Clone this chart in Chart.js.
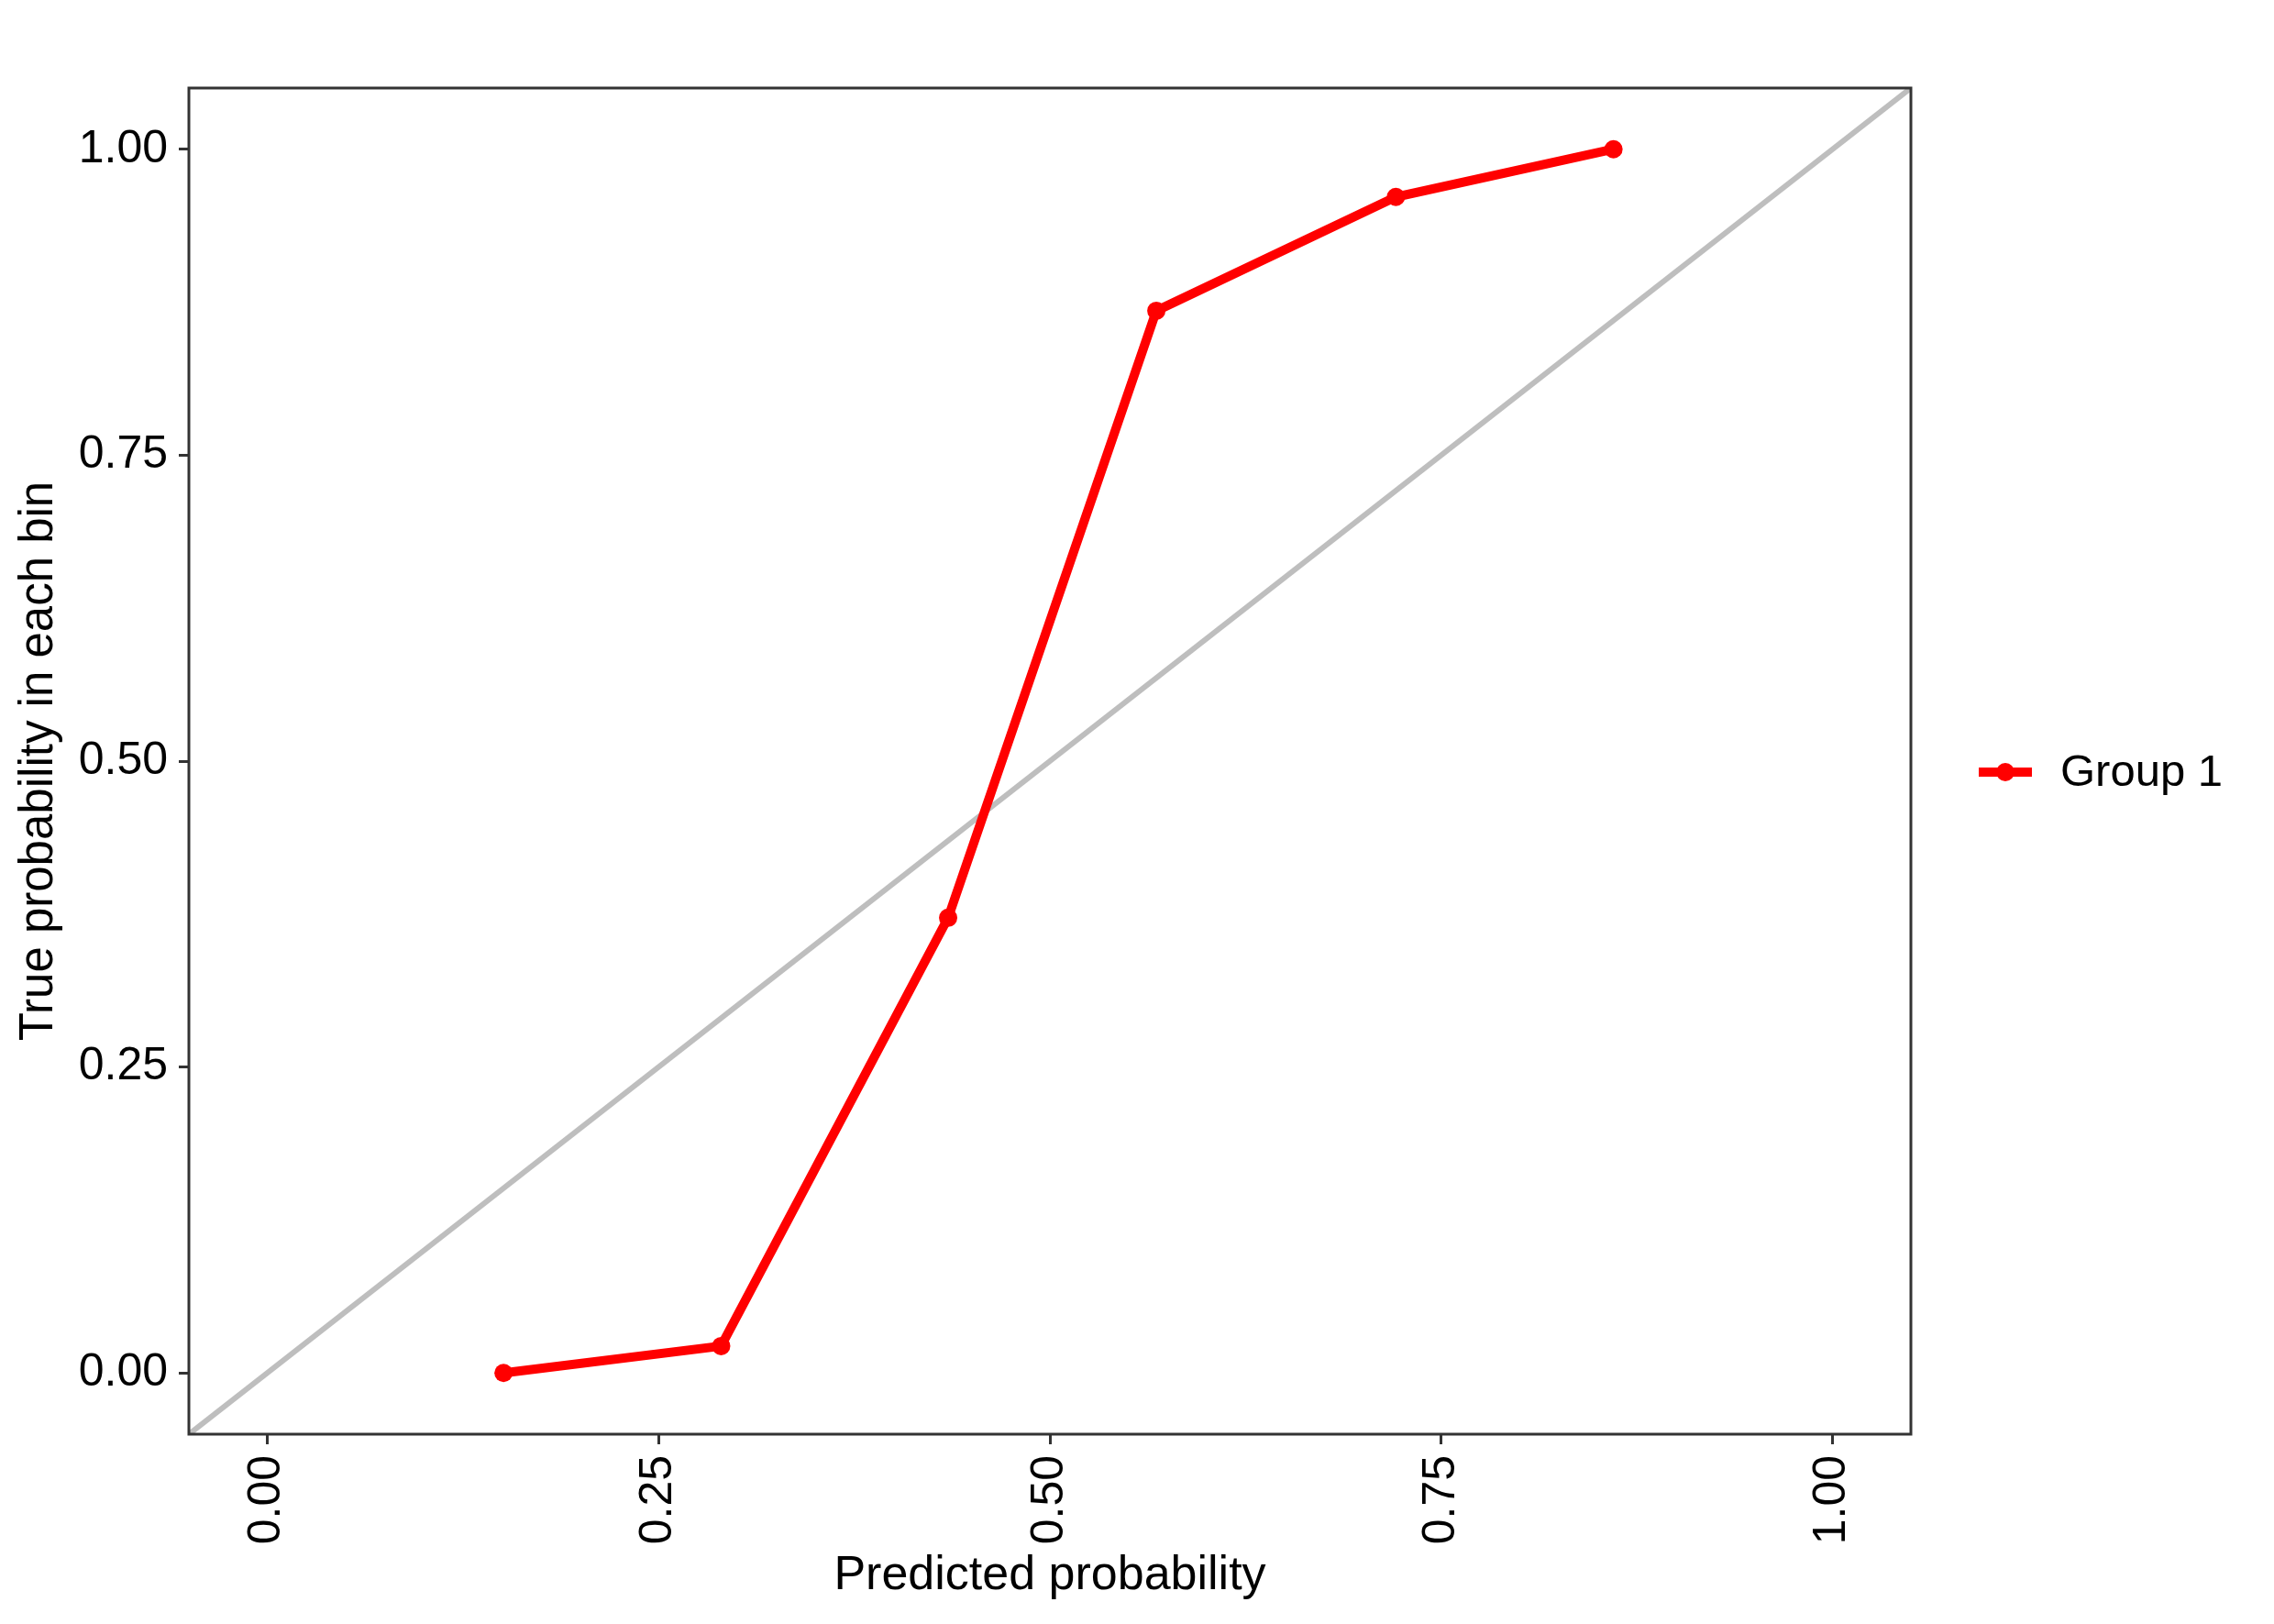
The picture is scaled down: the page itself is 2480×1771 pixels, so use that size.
<!DOCTYPE html>
<html>
<head>
<meta charset="utf-8">
<script src="https://cdn.jsdelivr.net/npm/chart.js@4"></script>
<style>
html, body { margin:0; padding:0; background:#fff; }
canvas { display:block; }
</style>
</head>
<body>
<canvas id="c" width="2480" height="1771"></canvas>
<script>
// data
const predicted = [0.151, 0.290, 0.435, 0.568, 0.721, 0.860]
const observed = [0.000, 0.022, 0.372, 0.868, 0.961, 1.000]
const diagX = [-0.05, 1.05]
const xTicks = [0, 0.25, 0.5, 0.75, 1]
const yTicks = [0, 0.25, 0.5, 0.75, 1]
const groupName = 'Group 1'

const FONT = "'Liberation Sans', Arial, sans-serif"

// ggplot-like panel border
const panelBorder = {
	id: 'panelBorder',
	afterDatasetsDraw: c => {
		const a = c.chartArea, ctx = c.ctx
		ctx.save()
		ctx.strokeStyle = '#333333'
		ctx.lineWidth = 3
		ctx.strokeRect(a.left, a.top, a.right - a.left, a.bottom - a.top)
		ctx.restore()
	}
}

// legend on the right: thick line with a dot, then the label
const sideLegend = {
	id: 'sideLegend',
	afterDraw: c => {
		const ds = c.data.datasets[0], ctx = c.ctx
		const x0 = 2158, x1 = 2216, y = 842
		ctx.save()
		ctx.strokeStyle = ds.borderColor
		ctx.lineWidth = ds.borderWidth
		ctx.beginPath(); ctx.moveTo(x0, y); ctx.lineTo(x1, y); ctx.stroke()
		ctx.fillStyle = ds.pointBackgroundColor
		ctx.beginPath(); ctx.arc((x0 + x1) / 2, y, 10, 0, Math.PI * 2); ctx.fill()
		ctx.fillStyle = '#000'
		ctx.font = '49px ' + FONT
		ctx.textBaseline = 'middle'
		ctx.fillText(ds.label, 2247, y + 1)
		ctx.restore()
	}
}

new Chart(document.getElementById('c'), {
	type: 'line',
	data: {
		datasets: [
			{
				label: groupName,
				data: predicted.map((v, i) => ({x: v, y: observed[i]})),
				borderColor: '#FF0000',
				backgroundColor: '#FF0000',
				pointBackgroundColor: '#FF0000',
				borderWidth: 10,
				pointRadius: 10,
				pointBorderWidth: 0,
				tension: 0,
				order: 1,
			},
			{
				label: 'diagonal',
				data: diagX.map(v => ({x: v, y: v})),
				borderColor: '#BEBEBE',
				borderWidth: 6,
				pointRadius: 0,
				tension: 0,
				order: 2,
			},
		]
	},
	options: {
		responsive: false,
		animation: false,
		devicePixelRatio: 1,
		layout: { padding: { left: 0, top: 96, right: 396, bottom: 0 } },
		plugins: {
			legend: { display: false },
			tooltip: { enabled: false },
		},
		scales: {
			x: {
				type: 'linear',
				min: -0.05,
				max: 1.05,
				afterBuildTicks: s => { s.ticks = xTicks.map(v => ({value: v})) },
				afterFit: s => { s.height = 207 },
				ticks: {
					autoSkip: false,
					minRotation: 90,
					maxRotation: 90,
					padding: 12,
					color: '#000',
					font: { family: FONT, size: 50 },
					callback: v => v.toFixed(2),
				},
				grid: { drawOnChartArea: false, drawTicks: true, tickLength: 11, tickColor: '#333333', tickWidth: 3 },
				border: { display: false },
				title: {
					display: true,
					text: 'Predicted probability',
					color: '#000',
					font: { family: FONT, size: 52 },
					padding: { top: 0, bottom: 21 },
				},
			},
			y: {
				type: 'linear',
				min: -0.05,
				max: 1.05,
				afterBuildTicks: s => { s.ticks = yTicks.map(v => ({value: v})) },
				afterFit: s => { s.width = 206 },
				ticks: {
					padding: 12,
					color: '#000',
					font: { family: FONT, size: 50 },
					callback: v => v.toFixed(2),
				},
				grid: { drawOnChartArea: false, drawTicks: true, tickLength: 11, tickColor: '#333333', tickWidth: 3 },
				border: { display: false },
				title: {
					display: true,
					text: 'True probability in each bin',
					color: '#000',
					font: { family: FONT, size: 51 },
					padding: { top: 12, bottom: 0 },
				},
			},
		},
	},
	plugins: [panelBorder, sideLegend],
})
</script>
</body>
</html>
